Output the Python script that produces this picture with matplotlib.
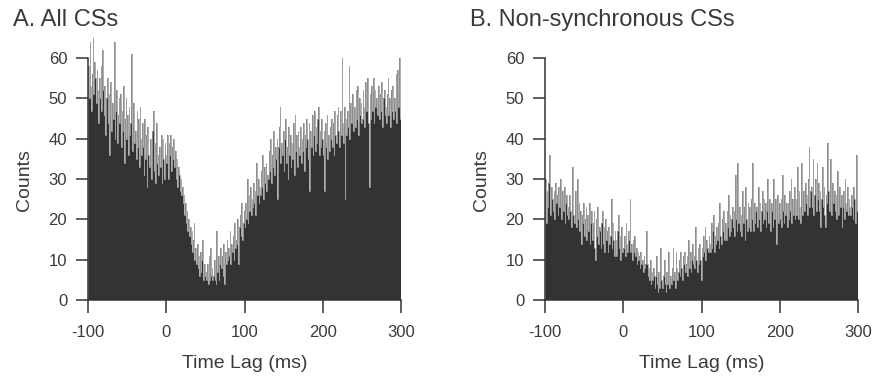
import numpy as np
import matplotlib.pyplot as plt

plt.rcParams["font.family"] = ["Liberation Sans", "DejaVu Sans"]
plt.rcParams["axes.unicode_minus"] = False

# 1 ms bins from -100 to 300 ms
bin_edges = np.arange(-100, 301, 1)

# A. All CSs (counts per bin, one row = 10 ms)
counts_all = [
    58, 50, 64, 53, 47, 56, 65, 51, 59, 55,
    49, 57, 52, 44, 55, 50, 58, 47, 62, 52,
    46, 53, 41, 50, 55, 44, 51, 36, 54, 48,
    42, 49, 45, 64, 40, 47, 52, 39, 46, 50,
    44, 51, 38, 47, 42, 53, 34, 45, 50, 40,
    46, 36, 48, 41, 44, 61, 37, 43, 49, 39,
    42, 35, 47, 38, 45, 33, 48, 40, 36, 44,
    38, 31, 45, 35, 41, 28, 43, 36, 33, 40,
    37, 30, 42, 47, 32, 39, 29, 44, 34, 36,
    31, 38, 33, 41, 29, 40, 35, 30, 39, 36,
    34, 41, 30, 39, 36, 41, 32, 38, 35, 40,
    33, 37, 30, 35, 28, 33, 31, 27, 30, 26,
    28, 24, 26, 21, 24, 19, 22, 17, 20, 16,
    18, 14, 17, 12, 15, 19, 10, 13, 9, 14,
    8, 11, 6, 12, 7, 10, 15, 5, 9, 6,
    7, 5, 9, 4, 11, 5, 13, 6, 8, 5,
    6, 10, 5, 4, 17, 7, 11, 5, 9, 13,
    8, 11, 6, 14, 4, 12, 9, 15, 10, 13,
    11, 17, 9, 14, 12, 16, 10, 19, 13, 15,
    14, 20, 9, 18, 21, 16, 24, 15, 19, 22,
    18, 24, 20, 30, 19, 26, 22, 28, 21, 25,
    23, 29, 24, 27, 21, 34, 26, 30, 24, 28,
    26, 32, 28, 36, 25, 33, 29, 34, 27, 31,
    30, 37, 32, 40, 29, 36, 33, 42, 31, 38,
    35, 40, 25, 38, 43, 48, 34, 39, 36, 42,
    32, 40, 45, 34, 38, 30, 43, 36, 41, 33,
    39, 35, 44, 31, 46, 37, 41, 33, 42, 38,
    36, 43, 34, 40, 37, 44, 32, 41, 38, 45,
    40, 35, 44, 27, 42, 38, 46, 36, 41, 47,
    37, 43, 39, 45, 48, 36, 42, 38, 45, 40,
    36, 42, 27, 44, 38, 46, 35, 41, 37, 43,
    40, 45, 38, 44, 36, 47, 41, 39, 46, 48,
    42, 38, 47, 41, 60, 44, 39, 48, 25, 45,
    41, 47, 43, 58, 40, 49, 44, 46, 51, 42,
    48, 43, 52, 45, 53, 41, 50, 46, 49, 44,
    45, 52, 48, 43, 54, 47, 50, 55, 44, 28,
    51, 45, 53, 47, 55, 44, 52, 48, 50, 46,
    49, 53, 45, 51, 47, 54, 43, 50, 52, 46,
    48, 44, 51, 55, 46, 50, 43, 52, 47, 53,
    45, 50, 47, 56, 44, 57, 48, 51, 60, 45,
]

# B. Non-synchronous CSs
counts_nonsync = [
    30, 19, 27, 23, 29, 36, 24, 21, 28, 25,
    22, 27, 20, 29, 24, 26, 21, 28, 23, 30,
    25, 20, 27, 22, 28, 19, 24, 26, 21, 23,
    20, 26, 22, 18, 25, 33, 21, 19, 27, 22,
    18, 30, 20, 24, 17, 22, 14, 21, 19, 24,
    16, 20, 23, 15, 21, 17, 24, 14, 19, 22,
    15, 19, 22, 13, 10, 20, 16, 23, 14, 18,
    17, 13, 19, 22, 14, 18, 12, 20, 15, 17,
    12, 18, 14, 16, 25, 13, 19, 15, 11, 17,
    15, 11, 17, 21, 13, 16, 10, 18, 14, 12,
    13, 16, 11, 19, 14, 12, 17, 15, 25, 12,
    14, 10, 15, 12, 16, 11, 13, 9, 12, 10,
    11, 8, 12, 9, 10, 7, 11, 8, 9, 17,
    9, 6, 8, 5, 10, 4, 7, 5, 8, 6,
    3, 6, 11, 4, 2, 7, 3, 13, 5, 4,
    3, 6, 10, 4, 2, 7, 4, 12, 5, 3,
    6, 4, 8, 13, 5, 7, 3, 12, 8, 5,
    7, 10, 6, 12, 8, 5, 11, 9, 12, 7,
    9, 11, 6, 15, 8, 12, 7, 10, 14, 9,
    11, 8, 18, 10, 7, 13, 9, 14, 10, 5,
    13, 11, 16, 12, 18, 10, 15, 13, 12, 16,
    14, 12, 19, 13, 17, 21, 12, 16, 14, 18,
    15, 19, 13, 24, 16, 14, 20, 17, 22, 15,
    19, 15, 22, 18, 26, 16, 21, 17, 20, 23,
    18, 22, 16, 31, 20, 17, 34, 19, 23, 17,
    21, 16, 27, 19, 23, 15, 28, 20, 17, 24,
    18, 23, 17, 25, 20, 34, 17, 24, 19, 22,
    23, 18, 28, 20, 24, 17, 22, 27, 19, 25,
    20, 24, 18, 22, 30, 19, 25, 21, 17, 24,
    22, 18, 30, 20, 25, 14, 23, 26, 19, 24,
    20, 25, 18, 31, 22, 19, 26, 21, 24, 18,
    24, 20, 27, 22, 30, 19, 25, 21, 28, 20,
    25, 21, 33, 20, 27, 23, 19, 34, 24, 21,
    27, 22, 29, 24, 26, 21, 30, 38, 23, 27,
    28, 23, 35, 21, 26, 30, 22, 34, 25, 29,
    22, 27, 18, 25, 33, 23, 28, 21, 18, 26,
    24, 39, 27, 22, 35, 25, 21, 29, 24, 27,
    22, 26, 20, 32, 25, 21, 28, 23, 26, 18,
    23, 27, 20, 30, 24, 22, 28, 21, 25, 23,
    21, 26, 23, 20, 28, 25, 19, 24, 36, 22,
]

panel_titles = ["A. All CSs", "B. Non-synchronous CSs"]
x_ticks = [-100, 0, 100, 200, 300]
y_ticks = [0, 10, 20, 30, 40, 50, 60]

dark = "#333333"
edge = "#a0a0a0"
text_col = "#3a3a3a"

fig = plt.figure(figsize=(8.75, 3.82), dpi=100)
W, H = 875, 382

# axes positions in pixels (left, right)
panel_px = [(88, 401), (545, 858)]
title_x = [13, 470]

for i, counts in enumerate([counts_all, counts_nonsync]):
    l, r = panel_px[i]
    ax = fig.add_axes([l / W, (H - 300) / H, (r - l) / W, 266 / H])
    # dark bars, then light grey bar outlines on top
    ax.stairs(counts, bin_edges, fill=True, color=dark, lw=0)
    ax.stairs(counts, bin_edges, color=edge, lw=0.6)
    ax.set_xlim(-100, 300)
    ax.set_ylim(0, 66)
    ax.set_xticks(x_ticks)
    ax.set_yticks(y_ticks)
    ax.spines["top"].set_visible(False)
    ax.spines["right"].set_visible(False)
    ax.spines["left"].set_bounds(0, 60)
    ax.spines["bottom"].set_bounds(-100, 300)
    for s in ["left", "bottom"]:
        ax.spines[s].set_color(dark)
        ax.spines[s].set_linewidth(1.1)
        ax.spines[s].set_zorder(3)
    ax.tick_params(direction="out", length=9, width=1.1, color=dark,
                   labelcolor=text_col, labelsize=12)
    ax.tick_params(axis="y", pad=6)
    ax.tick_params(axis="x", pad=9)

    fig.text(title_x[i] / W, 1 - 20 / H, panel_titles[i], fontsize=17,
             color=text_col, ha="left", va="center")
    fig.text((l - 63) / W, 1 - 180 / H, "Counts", rotation=90, fontsize=14,
             color=text_col, ha="center", va="center")
    fig.text((l + r) / 2 / W, 1 - 363 / H, "Time Lag (ms)", fontsize=14,
             color=text_col, ha="center", va="center")

plt.savefig("out.png", dpi=100)
